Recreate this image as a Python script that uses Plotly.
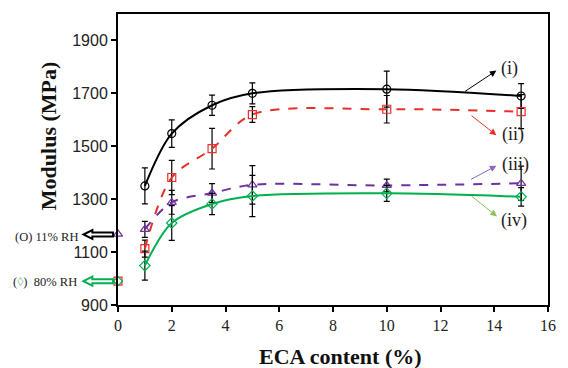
import plotly.graph_objects as go

# ---- data ----
eca = [1, 2, 3.5, 5, 10, 15]
mod_i = [1350, 1548, 1655, 1700, 1716, 1690]
err_i = [68, 52, 38, 40, 68, 47]
mod_ii = [1113, 1382, 1491, 1620, 1640, 1631]
err_ii = [32, 65, 77, 30, 52, 64]
mod_iii = [1186, 1288, 1323, 1354, 1352, 1360]
err_iii = [30, 45, 36, 73, 24, 65]
mod_iv = [1049, 1210, 1282, 1312, 1322, 1309]
err_iv = [55, 66, 40, 78, 30, 35]

eca0 = [0]
mod0_11rh = [1168]
mod0_80rh = [990]

series_labels = ["(i)", "(ii)", "(iii)", "(iv)"]
xticks = [0, 2, 4, 6, 8, 10, 12, 14, 16]
yticks = [900, 1100, 1300, 1500, 1700, 1900]

# ---- layout geometry (pixels) ----
W, H = 568, 368
L, R, T, B = 118, 14, 12, 63
PW, PH = W - L - R, H - T - B


def px(xp):
    return (xp - L) / PW


def py(yp):
    return (H - B - yp) / PH


fig = go.Figure()

styles = [
    (mod_i, err_i, "black", "solid", "circle-open"),
    (mod_ii, err_ii, "#e8302a", "dash", "square-open"),
    (mod_iii, err_iii, "#7030a0", "dash", "triangle-up-open"),
    (mod_iv, err_iv, "#00b050", "solid", "diamond-open"),
]
for (vals, errs, col, dash, sym), name in zip(styles, series_labels):
    fig.add_trace(go.Scatter(
        x=eca, y=vals, mode="lines+markers", name=name,
        line=dict(color=col, width=2, dash=dash, shape="spline", smoothing=0.9),
        marker=dict(symbol=sym, size=8, color=col, line=dict(width=1.2, color=col)),
        error_y=dict(type="data", array=errs, visible=True, color="black",
                     thickness=1.2, width=3),
        cliponaxis=False, showlegend=False,
    ))

# points at 0 % ECA
fig.add_trace(go.Scatter(x=eca0, y=mod0_80rh, mode="markers",
                         marker=dict(symbol="square-open", size=8, color="#e8302a",
                                     line=dict(width=1.2, color="#e8302a")),
                         cliponaxis=False, showlegend=False))
fig.add_trace(go.Scatter(x=eca0, y=mod0_80rh, mode="markers",
                         marker=dict(symbol="diamond-open", size=7, color="#00b050",
                                     line=dict(width=1.2, color="#00b050")),
                         cliponaxis=False, showlegend=False))
fig.add_trace(go.Scatter(x=eca0, y=mod0_11rh, mode="markers",
                         marker=dict(symbol="triangle-up-open", size=8, color="#7030a0",
                                     line=dict(width=1.2, color="#7030a0")),
                         cliponaxis=False, showlegend=False))

serif = "Liberation Serif, Times New Roman, serif"
sans = "Liberation Sans, Arial, sans-serif"

annotations = []
# series labels with arrows
label_specs = [
    ("(i)", "black", (12.86, 1704), (14.08, 1786), (14.55, 1795)),
    ("(ii)", "#e8302a", (13.10, 1620), (14.08, 1542), (14.68, 1546)),
    ("(iii)", "#8a66c8", (13.08, 1372), (14.08, 1426), (14.79, 1433)),
    ("(iv)", "#8cc152", (13.10, 1316), (14.10, 1235), (14.72, 1219)),
]
for txt, col, tail, head, pos in label_specs:
    annotations.append(dict(x=head[0], y=head[1], ax=tail[0], ay=tail[1],
                            xref="x", yref="y", axref="x", ayref="y",
                            text="", showarrow=True, arrowhead=2, arrowsize=1.3,
                            arrowwidth=1, arrowcolor=col))
    annotations.append(dict(x=pos[0], y=pos[1], xref="x", yref="y", text=txt,
                            xanchor="center", yanchor="middle",
                            showarrow=False, font=dict(family=serif, size=18, color="#222")))

# RH labels on the left
annotations.append(dict(x=px(45), y=py(237), xref="paper", yref="paper",
                        xanchor="center", yanchor="middle",
                        text="(O) 11% RH", showarrow=False,
                        font=dict(family=serif, size=12.5, color="#222")))
annotations.append(dict(x=px(44), y=py(282), xref="paper", yref="paper",
                        xanchor="center", yanchor="middle",
                        text="(<span style='color:#8cc9a0'>◊</span>)  80% RH", showarrow=False,
                        font=dict(family=serif, size=12.5, color="#222")))

# axis titles
annotations.append(dict(x=px(47), y=py(134), xref="paper", yref="paper",
                        xanchor="center", yanchor="middle",
                        text="<b>Modulus (MPa)</b>", textangle=-90, showarrow=False,
                        font=dict(family=serif, size=22, color="#111")))
annotations.append(dict(x=px(344), y=py(357), xref="paper", yref="paper",
                        xanchor="center", yanchor="middle",
                        text="<b>ECA content (%)</b>", showarrow=False,
                        font=dict(family=serif, size=22, color="#111")))


def arrow_path(yc, x_tip=83, x_end=113, head_len=9, head_h=4.5, shaft_h=2):
    pts = [(x_tip, yc), (x_tip + head_len, yc - head_h), (x_tip + head_len, yc - shaft_h),
           (x_end, yc - shaft_h), (x_end, yc + shaft_h), (x_tip + head_len, yc + shaft_h),
           (x_tip + head_len, yc + head_h)]
    d = "M " + " L ".join(f"{px(a):.5f},{py(b):.5f}" for a, b in pts) + " Z"
    return d


shapes = [
    dict(type="path", path=arrow_path(234), xref="paper", yref="paper",
         line=dict(color="black", width=2), fillcolor="white", layer="above"),
    dict(type="path", path=arrow_path(281), xref="paper", yref="paper",
         line=dict(color="#00b050", width=2), fillcolor="white", layer="above"),
]

fig.update_layout(
    width=W, height=H,
    margin=dict(l=L, r=R, t=T, b=B),
    paper_bgcolor="white", plot_bgcolor="white",
    annotations=annotations, shapes=shapes,
    xaxis=dict(range=[0, 16], tickvals=xticks, ticks="outside", ticklen=5,
               tickcolor="black", tickwidth=1.5, showline=True, linecolor="black",
               linewidth=2, mirror=True, showgrid=False, zeroline=False,
               tickfont=dict(family=serif, size=16, color="#222")),
    yaxis=dict(range=[900, 2000], tickvals=yticks, ticks="outside", ticklen=5,
               tickcolor="black", tickwidth=1.5, showline=True, linecolor="black",
               linewidth=2, mirror=True, showgrid=False, zeroline=False,
               tickfont=dict(family=sans, size=16, color="#222")),
)

fig.write_html("out.html", config={"displayModeBar": False},
               post_script="document.body.style.margin='0';document.body.style.overflow='hidden';")
